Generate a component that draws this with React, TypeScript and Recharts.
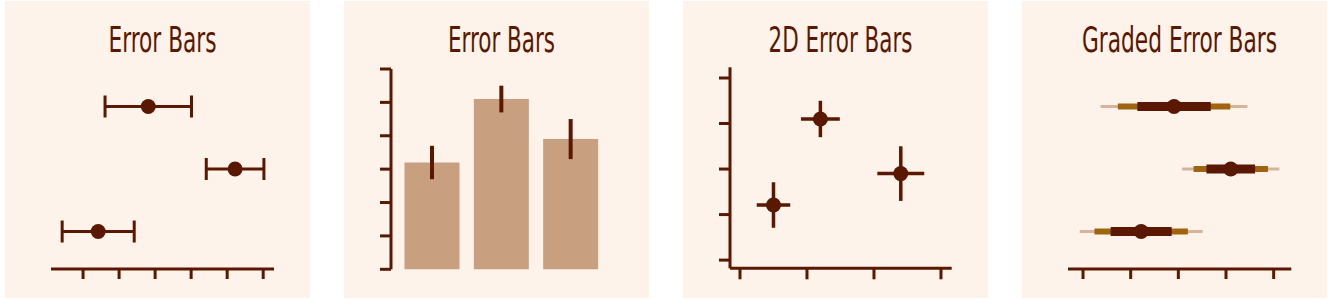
import React, { useLayoutEffect, useRef, useState } from 'react';
import { ScatterChart, Scatter, BarChart, Bar, XAxis, YAxis, ErrorBar } from 'recharts';

const DARK = '#5a1800';
const BG = '#fef3eb';
const TAN = '#c8a080';
const OCHRE = '#a0640f';
const LIGHT = '#d6b39b';

// panel 1: horizontal error bars
const rowY = [3, 2, 1];
const p1X = [2.81, 5.22, 1.42];
const p1Err = [1.2, 0.8, 1.0];
const p1Ticks = [1, 2, 3, 4, 5, 6];

// panel 2: bars with error
const barCats = ['A', 'B', 'C'];
const barVals = [3.2, 5.1, 3.9];
const barErr = [0.5, 0.4, 0.6];
const barTicks = [0, 1, 2, 3, 4, 5, 6];

// panel 3: 2D error bars
const p3X = [1.5, 2.2, 3.4];
const p3Y = [2.21, 4.1, 2.9];
const p3ErrX = [0.25, 0.29, 0.35];
const p3ErrY = [0.5, 0.4, 0.6];
const p3XTicks = [1, 2, 3, 4];
const p3YTicks = [1, 2, 3, 4, 5];

// panel 4: graded error bars
const p4X = [2.91, 4.1, 2.22];
const p4Err1 = [0.77, 0.51, 0.64];
const p4Err2 = [1.18, 0.78, 0.98];
const p4Err3 = [1.54, 1.02, 1.29];
const p4Ticks = [1, 2, 3, 4, 5];

const W = 305;
const H = 297;

const axisStyle = { stroke: DARK, strokeWidth: 3 };
const noLabel = () => <g />;

const dot = (props: any) => <circle cx={props.cx} cy={props.cy} r={7.5} fill={DARK} />;

// title squeezed horizontally to the reference width (condensed face)
function Title({ text, width }: { text: string; width: number }) {
  const ref = useRef<SVGTextElement>(null);
  const [sx, setSx] = useState(0.8);
  useLayoutEffect(() => {
    if (ref.current) {
      const w = ref.current.getComputedTextLength();
      if (w > 0) setSx(width / w);
    }
  }, [width]);
  return (
    <svg width={W} height={64} style={{ position: 'absolute', left: 0, top: 0, pointerEvents: 'none' }}>
      <text
        ref={ref}
        transform={`translate(157.5,51) scale(${sx},1)`}
        textAnchor="middle"
        fontFamily="'Liberation Sans Narrow', 'DejaVu Sans Condensed', 'DejaVu Sans', sans-serif"
        fontSize={35}
        fill={DARK}
      >
        {text}
      </text>
    </svg>
  );
}

function Panel({ left, children }: { left: number; children: React.ReactNode }) {
  return (
    <div style={{ position: 'absolute', left, top: 1, width: W, height: H, background: BG }}>{children}</div>
  );
}

export default function App() {
  const d1 = p1X.map((x, i) => ({ x, y: rowY[i], e: p1Err[i] }));
  const d2 = barCats.map((c, i) => ({ c, v: barVals[i], e: barErr[i] }));
  const d3 = p3X.map((x, i) => ({ x, y: p3Y[i], ex: p3ErrX[i], ey: p3ErrY[i] }));
  const d4 = p4X.map((x, i) => ({ x, y: rowY[i], e1: p4Err1[i], e2: p4Err2[i], e3: p4Err3[i] }));

  return (
    <div style={{ position: 'absolute', left: 0, top: 0, width: 1342, height: 299, background: '#fff', overflow: 'hidden' }}>
      <Panel left={5}>
        <ScatterChart width={W} height={H} data={d1} margin={{ top: 43, right: 36, bottom: 9, left: 46 }}>
          <XAxis type="number" dataKey="x" domain={[0.11, 6.3]} ticks={p1Ticks} allowDataOverflow
            height={20} tick={noLabel} tickSize={10} axisLine={axisStyle} tickLine={axisStyle} />
          <YAxis type="number" dataKey="y" domain={[0.4, 4]} allowDataOverflow hide />
          <Scatter data={d1} fill={DARK} shape={dot} isAnimationActive={false}>
            <ErrorBar dataKey="e" direction="x" width={11} strokeWidth={3} stroke={DARK} isAnimationActive={false} />
          </Scatter>
        </ScatterChart>
        <Title text="Error Bars" width={108} />
      </Panel>

      <Panel left={344}>
        <BarChart width={W} height={H} data={d2} margin={{ top: 68, right: 43.5, bottom: 28.7, left: 0 }}>
          <XAxis dataKey="c" hide padding={{ left: 6.5, right: 0 }} />
          <YAxis type="number" domain={[0, 6]} ticks={barTicks} width={47} tick={noLabel} tickSize={11}
            axisLine={axisStyle} tickLine={axisStyle} />
          <Bar dataKey="v" fill={TAN} barSize={55} isAnimationActive={false}>
            <ErrorBar dataKey="e" direction="y" width={0} strokeWidth={4} stroke={DARK} isAnimationActive={false} />
          </Bar>
        </BarChart>
        <Title text="Error Bars" width={107} />
      </Panel>

      <Panel left={683}>
        <ScatterChart width={W} height={H} data={d3} margin={{ top: 66.3, right: 36.3, bottom: 9.7, left: 0 }}>
          <XAxis type="number" dataKey="x" domain={[0.851, 4.16]} ticks={p3XTicks} allowDataOverflow
            height={20} tick={noLabel} tickSize={11} axisLine={axisStyle} tickLine={axisStyle} />
          <YAxis type="number" dataKey="y" domain={[0.82, 5.235]} ticks={p3YTicks} allowDataOverflow
            width={47} tick={noLabel} tickSize={11} axisLine={axisStyle} tickLine={axisStyle} />
          <Scatter data={d3} fill={DARK} shape={dot} isAnimationActive={false}>
            <ErrorBar dataKey="ex" direction="x" width={0} strokeWidth={3.5} stroke={DARK} isAnimationActive={false} />
            <ErrorBar dataKey="ey" direction="y" width={0} strokeWidth={3.5} stroke={DARK} isAnimationActive={false} />
          </Scatter>
        </ScatterChart>
        <Title text="2D Error Bars" width={144} />
      </Panel>

      <Panel left={1022}>
        <ScatterChart width={W} height={H} data={d4} margin={{ top: 43, right: 35.7, bottom: 9, left: 46 }}>
          <XAxis type="number" dataKey="x" domain={[0.685, 5.37]} ticks={p4Ticks} allowDataOverflow
            height={20} tick={noLabel} tickSize={10} axisLine={axisStyle} tickLine={axisStyle} />
          <YAxis type="number" dataKey="y" domain={[0.4, 4]} allowDataOverflow hide />
          <Scatter data={d4} fill={DARK} shape={dot} isAnimationActive={false}>
            <ErrorBar dataKey="e3" direction="x" width={0} strokeWidth={3} stroke={LIGHT} isAnimationActive={false} />
            <ErrorBar dataKey="e2" direction="x" width={0} strokeWidth={6} stroke={OCHRE} isAnimationActive={false} />
            <ErrorBar dataKey="e1" direction="x" width={0} strokeWidth={9} stroke={DARK} isAnimationActive={false} />
          </Scatter>
        </ScatterChart>
        <Title text="Graded Error Bars" width={195} />
      </Panel>
    </div>
  );
}
